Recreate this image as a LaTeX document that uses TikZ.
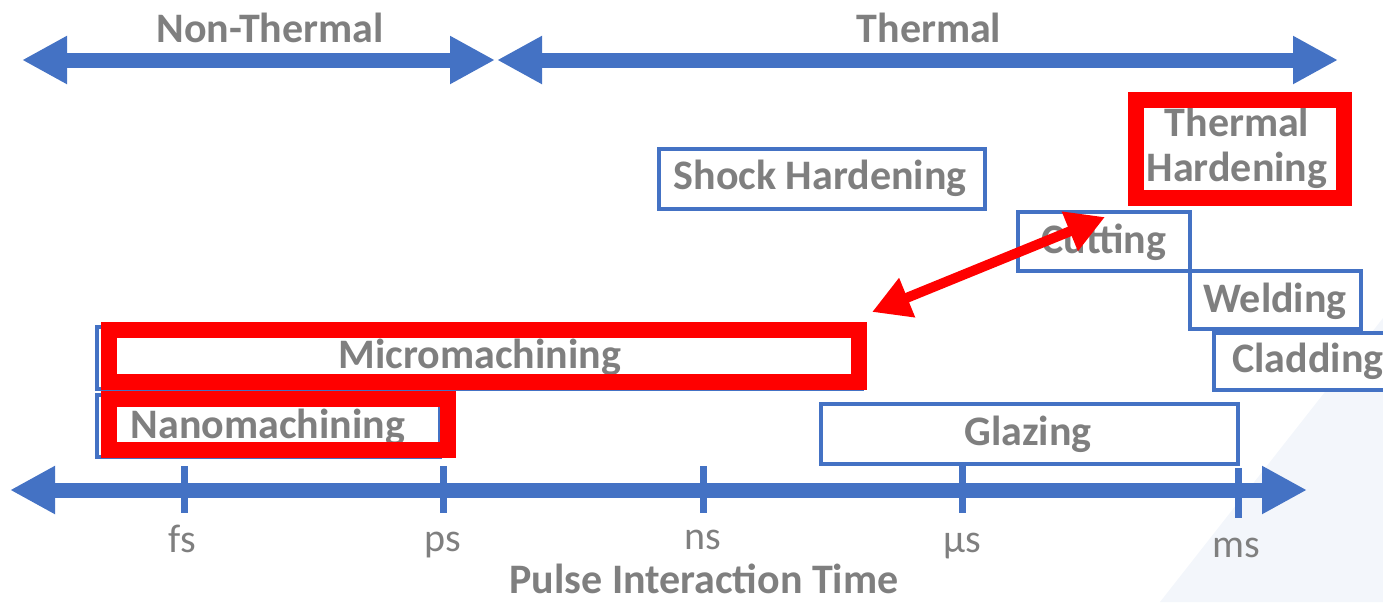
\documentclass[tikz,border=0pt]{standalone}
\usepackage{fontspec}
\setmainfont{Carlito}
\usetikzlibrary{arrows.meta,fit}
\definecolor{cblue}{HTML}{4472C4}
\definecolor{cgray}{HTML}{7F7F7F}
\definecolor{cred}{HTML}{FF0000}
\definecolor{cbg}{HTML}{F3F6FB}
\begin{document}
\begin{tikzpicture}[x=0.5pt,y=-0.5pt,
  bigarrow/.style={draw=cblue, line width=7.5pt,
    {Triangle[length=22.5pt,width=22.5pt]}-{Triangle[length=22.5pt,width=22.5pt]}},
  redarrow/.style={draw=cred, line width=5pt,
    {Triangle[length=19pt,width=20pt]}-{Triangle[length=19pt,width=20pt]}},
  tickmark/.style={draw=cblue, line width=3.5pt},
  boxb/.style={draw=cblue, line width=1.8pt, fill=white, inner sep=0pt, rectangle},
  redbox/.style={draw=cred, line width=8pt, inner sep=0pt, rectangle},
  lab/.style={text=cgray, font=\fontsize{21}{25}\selectfont\bfseries, inner sep=0pt, anchor=base},
  ticklab/.style={text=cgray, font=\fontsize{20}{24}\selectfont, inner sep=0pt, anchor=base}
]
\clip (0,0) rectangle (1383,602);
\useasboundingbox (0,0) rectangle (1383,602);
% background shading
\fill[cbg] (1383,318) -- (1383,602) -- (1160,602) -- cycle;

% top arrows
\coordinate (ntl) at (22,60);
\coordinate (ntr) at (495,60);
\coordinate (thl) at (497,60);
\coordinate (thr) at (1338,60);
\draw[bigarrow] (ntl) -- (ntr);
\draw[bigarrow] (thl) -- (thr);
\node[lab] (tnon) at (270,42) {Non-Thermal};
\node[lab] (tthe) at (929,42) {Thermal};

% blue boxes
\node[boxb, fit={(659,149) (985,209)}] (bshock) {};
\node[boxb, fit={(1018,212) (1190,271)}] (bcut) {};
\node[boxb, fit={(1190,271) (1361,329)}] (bweld) {};
\node[boxb, fit={(1214,333) (1420,390)}] (bclad) {};
\node[boxb, fit={(821,404) (1238,464)}] (bglaz) {};
\node[boxb, fit={(97,327) (862,389)}] (bmicro) {};
\node[boxb, fit={(97,395) (440,457)}] (bnano) {};

% labels
\node[lab] (lshock) at (820,189) {Shock Hardening};
\node[lab] (lcut) at (1104,253) {Cutting};
\node[lab] (lweld) at (1275,312) {Welding};
\node[lab, anchor=base west] (lclad) at (1232,372) {Cladding};
\node[lab] (lglaz) at (1028,445) {Glazing};
\node[lab] (lmicro) at (480,368) {Micromachining};
\node[lab] (lnano) at (268,438) {Nanomachining};
\node[lab] (lth1) at (1237,136) {Thermal};
\node[lab] (lth2) at (1237,181) {Hardening};

% red frames
\node[redbox, fit={(1136,100) (1344,197.5)}] (rthh) {};
\node[redbox, fit={(109,330) (858.5,381.5)}] (rmicro) {};
\node[redbox, fit={(109,399) (447.5,449.5)}] (rnano) {};

% red double arrow
\coordinate (ra) at (872,312);
\coordinate (rb) at (1105,217);
\draw[redarrow] (ra) -- (rb);

% bottom axis
\coordinate (axl) at (10,490);
\coordinate (axr) at (1307,490);
\draw[bigarrow] (axl) -- (axr);
\foreach \n/\xx/\ya/\yb in {fs/184/466/513, ps/443/466/513, ns/703/466/513, us/962/466/513, ms/1238/468/518}{
  \coordinate (t\n a) at (\xx,\ya);
  \coordinate (t\n b) at (\xx,\yb);
  \draw[tickmark] (t\n a) -- (t\n b);
}
\node[ticklab] (lfs) at (182,552) {fs};
\node[ticklab] (lps) at (443,551) {ps};
\node[ticklab] (lns) at (703,549) {ns};
\node[ticklab] (lus) at (962,552) {µs};
\node[ticklab] (lms) at (1236,557) {ms};
\node[lab] (lpit) at (704,593) {Pulse Interaction Time};
\end{tikzpicture}
\end{document}
